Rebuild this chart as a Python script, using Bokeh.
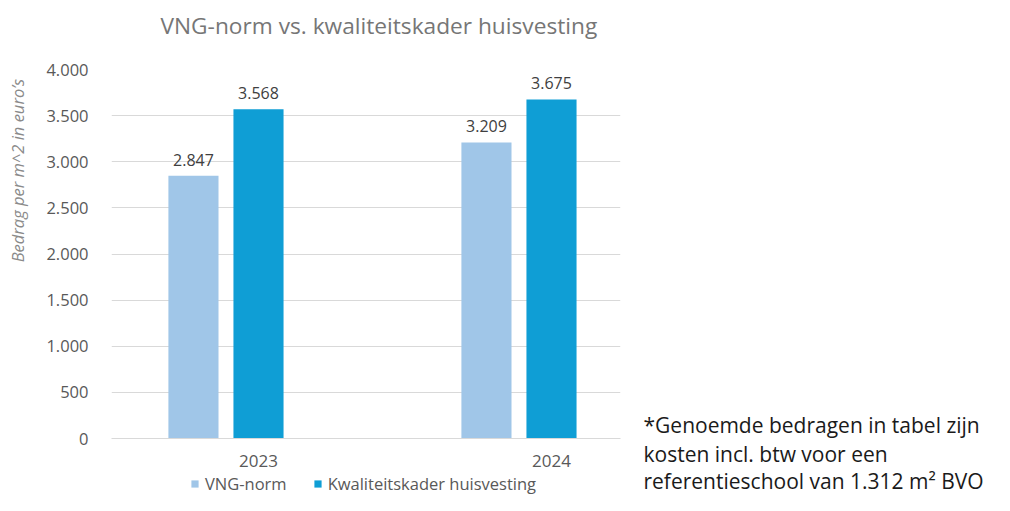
from bokeh.plotting import figure
from bokeh.layouts import row, column
from bokeh.models import (Range1d, FixedTicker, Label, LabelSet, ColumnDataSource,
                          Legend, LegendItem)
from bokeh.core.properties import value
from bokeh.embed import file_html
from bokeh.resources import INLINE

categories = ["2023", "2024"]
vng_norm = [2847, 3209]
kwaliteitskader = [3568, 3675]
y_ticks = [0, 500, 1000, 1500, 2000, 2500, 3000, 3500, 4000]
series_names = ["VNG-norm", "Kwaliteitskader huisvesting"]
series_colors = ["#A0C6E8", "#0F9ED5"]
title_text = "VNG-norm vs. kwaliteitskader huisvesting"
y_label = "Bedrag  per m^2 in euro’s"
note_lines = ["*Genoemde bedragen in tabel zijn",
              "kosten incl. btw voor een",
              "referentieschool van 1.312 m² BVO"]


def fmt(v):
    return f"{v:,}".replace(",", ".")


FONT = "Open Sans"
TOTAL_H = 495
LEFT_W = 30
MAIN_W = 605
TITLE_H = 50
LEG_H = 23
MAIN_H = TOTAL_H - TITLE_H - LEG_H
FRAME_LEFT = 111          # absolute x of the chart frame
FRAME_BOTTOM = 438        # absolute y of the chart's zero line


def blank_fig(w, h):
    f = figure(width=w, height=h, output_backend="svg", toolbar_location=None,
               x_range=Range1d(0, w), y_range=Range1d(0, h),
               x_axis_location=None, y_axis_location=None, min_border=0)
    f.outline_line_color = None
    f.xgrid.visible = False
    f.ygrid.visible = False
    return f


# ---- left strip: y axis label ----
ylab = blank_fig(LEFT_W, TOTAL_H)
ylab.add_layout(Label(x=17, y=TOTAL_H - 168, text=y_label, angle=1.5708,
                      text_align="center", text_baseline="middle",
                      text_font=FONT, text_font_style="italic",
                      text_font_size="16.5px", text_color="#8A8A8A"))

# ---- title strip ----
tstrip = blank_fig(MAIN_W, TITLE_H)
tstrip.add_layout(Label(x=160 - FRAME_LEFT, y=TITLE_H - 25, x_units="screen",
                        y_units="screen", text=title_text,
                        text_baseline="middle", text_font=FONT,
                        text_font_size="22.7px", text_color="#767676"))

# ---- main chart ----
p = figure(width=MAIN_W, height=MAIN_H, output_backend="svg",
           toolbar_location=None,
           x_range=Range1d(-0.5017, 1.2355), y_range=Range1d(0, 4000),
           min_border_left=FRAME_LEFT - LEFT_W, min_border_right=15,
           min_border_top=69 - TITLE_H,
           min_border_bottom=TITLE_H + MAIN_H - FRAME_BOTTOM)
p.outline_line_color = None

idx = list(range(len(categories)))
offsets = [-0.222, 0.0]
bar_w = 0.171
for vals, off, col in zip([vng_norm, kwaliteitskader], offsets, series_colors):
    xs = [i + off for i in idx]
    src = ColumnDataSource(dict(x=xs, top=vals, lbl=[fmt(v) for v in vals]))
    p.vbar(x="x", top="top", width=bar_w, source=src, fill_color=col,
           line_color=None)
    p.add_layout(LabelSet(x="x", y="top", text="lbl", source=src, y_offset=10,
                          text_align="center", text_baseline="bottom",
                          text_font=value(FONT), text_font_size="16px",
                          text_color="#404040"))

p.xaxis.ticker = FixedTicker(ticks=idx)
p.xaxis.major_label_overrides = {i: c for i, c in zip(idx, categories)}
p.xaxis.major_label_text_font = FONT
p.xaxis.major_label_text_font_size = "17px"
p.xaxis.major_label_text_color = "#595959"
p.xaxis.major_label_standoff = 10
p.xaxis.major_tick_line_color = None
p.xaxis.minor_tick_line_color = None
p.xaxis.axis_line_color = "#D9D9D9"

p.yaxis.ticker = FixedTicker(ticks=y_ticks)
p.yaxis.major_label_overrides = {t: fmt(t) for t in y_ticks}
p.yaxis.major_label_text_font = FONT
p.yaxis.major_label_text_font_size = "16.5px"
p.yaxis.major_label_text_color = "#595959"
p.yaxis.major_label_standoff = 17
p.yaxis.major_tick_line_color = None
p.yaxis.minor_tick_line_color = None
p.yaxis.axis_line_color = None

p.xgrid.grid_line_color = None
p.ygrid.ticker = FixedTicker(ticks=y_ticks)
p.ygrid.grid_line_color = "#D9D9D9"

# ---- legend strip under the chart ----
leg = blank_fig(MAIN_W, LEG_H)
leg_rs = [leg.vbar(x=[0], top=[0], width=0, fill_color=c, line_color=None)
          for c in series_colors]
legend = Legend(items=[LegendItem(label=n, renderers=[r])
                       for n, r in zip(series_names, leg_rs)],
                orientation="horizontal", location=(190 - FRAME_LEFT, 0),
                glyph_width=9, glyph_height=9, label_standoff=6, spacing=26,
                padding=0, margin=0, border_line_color=None,
                background_fill_alpha=0, label_text_font=FONT,
                label_text_font_size="16.5px", label_text_color="#595959",
                label_height=16)
leg.add_layout(legend)

# ---- note on the right ----
NOTE_W = 994 - LEFT_W - MAIN_W
note = blank_fig(NOTE_W, TOTAL_H)
note_y = [424, 453, 480]
for line, yc in zip(note_lines, note_y):
    note.add_layout(Label(x=8, y=TOTAL_H - yc, text=line,
                          text_baseline="middle", text_font=FONT,
                          text_font_size="21px", text_color="#1A1A1A"))

layout = row(ylab, column(tstrip, p, leg, spacing=0), note, spacing=0)
open("out.html", "w").write(file_html(layout, INLINE))
